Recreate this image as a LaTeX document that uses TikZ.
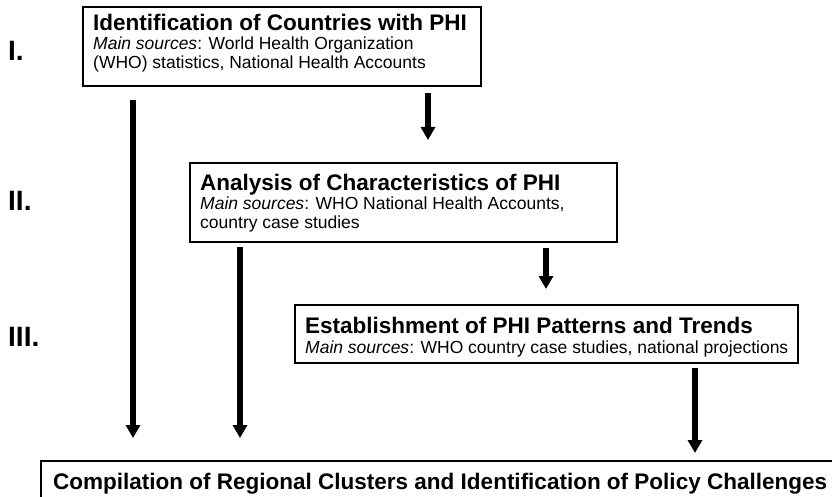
\documentclass[tikz,border=0pt]{standalone}
\usepackage{fontspec}
\setmainfont{Liberation Sans}
\usetikzlibrary{arrows.meta}
\tikzset{
  box/.style={draw=black, line width=1.5pt, anchor=north west, inner sep=0pt, outer sep=0pt},
  ttl/.style={anchor=base west, inner sep=0pt, font=\fontsize{22.5}{26}\selectfont\bfseries},
  sub/.style={anchor=base west, inner sep=0pt, font=\fontsize{17.5}{20}\selectfont},
  roman/.style={anchor=base west, inner sep=0pt, font=\fontsize{28}{30}\selectfont\bfseries},
  arr/.style={line width=5.5pt, -{Triangle[width=14pt,length=13pt]}}
}
\begin{document}
\begin{tikzpicture}[x=1pt,y=-1pt]
\useasboundingbox (0,0) rectangle (832,497);
\clip (0,0) rectangle (832,497);
% boxes
\node[box, minimum width=398pt, minimum height=79pt] (b1) at (83,7) {};
\node[box, minimum width=427pt, minimum height=79pt] (b2) at (190,163) {};
\node[box, minimum width=503pt, minimum height=58pt] (b3) at (295,305) {};
\node[box, minimum width=830pt, minimum height=60pt] (b4) at (41,461) {};
% texts
\node[ttl] (t1) at (93,31) {Identification of Countries with PHI};
\node[sub] (s1a) at (93,50) {\textit{Main sources}: World Health Organization};
\node[sub] (s1b) at (93,69) {(WHO) statistics, National Health Accounts};
\node[ttl] (t2) at (200,190) {Analysis of Characteristics of PHI};
\node[sub] (s2a) at (200,209) {\textit{Main sources}: WHO National Health Accounts,};
\node[sub] (s2b) at (200,229) {country case studies};
\node[ttl] (t3) at (305,333) {Establishment of PHI Patterns and Trends};
\node[sub] (s3a) at (305,353) {\textit{Main sources}: WHO country case studies, national projections};
\node[ttl] (t4) at (53,489) {Compilation of Regional Clusters and Identification of Policy Challenges};
% roman numerals
\node[roman] (r1) at (8,61) {I.};
\node[roman] (r2) at (8,211) {II.};
\node[roman] (r3) at (8,346) {III.};
% arrow columns
\coordinate (x1) at (133,0);
\coordinate (x2) at (428,0);
\coordinate (x3) at (240,0);
\coordinate (x4) at (546,0);
\coordinate (x5) at (695,0);
\draw[arr, shorten <=14pt, shorten >=23pt] (b1.south -| x1) -- (b4.north -| x1);
\draw[arr, shorten <=7pt, shorten >=23pt] (b1.south -| x2) -- (b2.north -| x2);
\draw[arr, shorten <=5pt, shorten >=23pt] (b2.south -| x3) -- (b4.north -| x3);
\draw[arr, shorten <=6pt, shorten >=16pt] (b2.south -| x4) -- (b3.north -| x4);
\draw[arr, shorten <=5pt, shorten >=8pt] (b3.south -| x5) -- (b4.north -| x5);
\end{tikzpicture}
\end{document}
